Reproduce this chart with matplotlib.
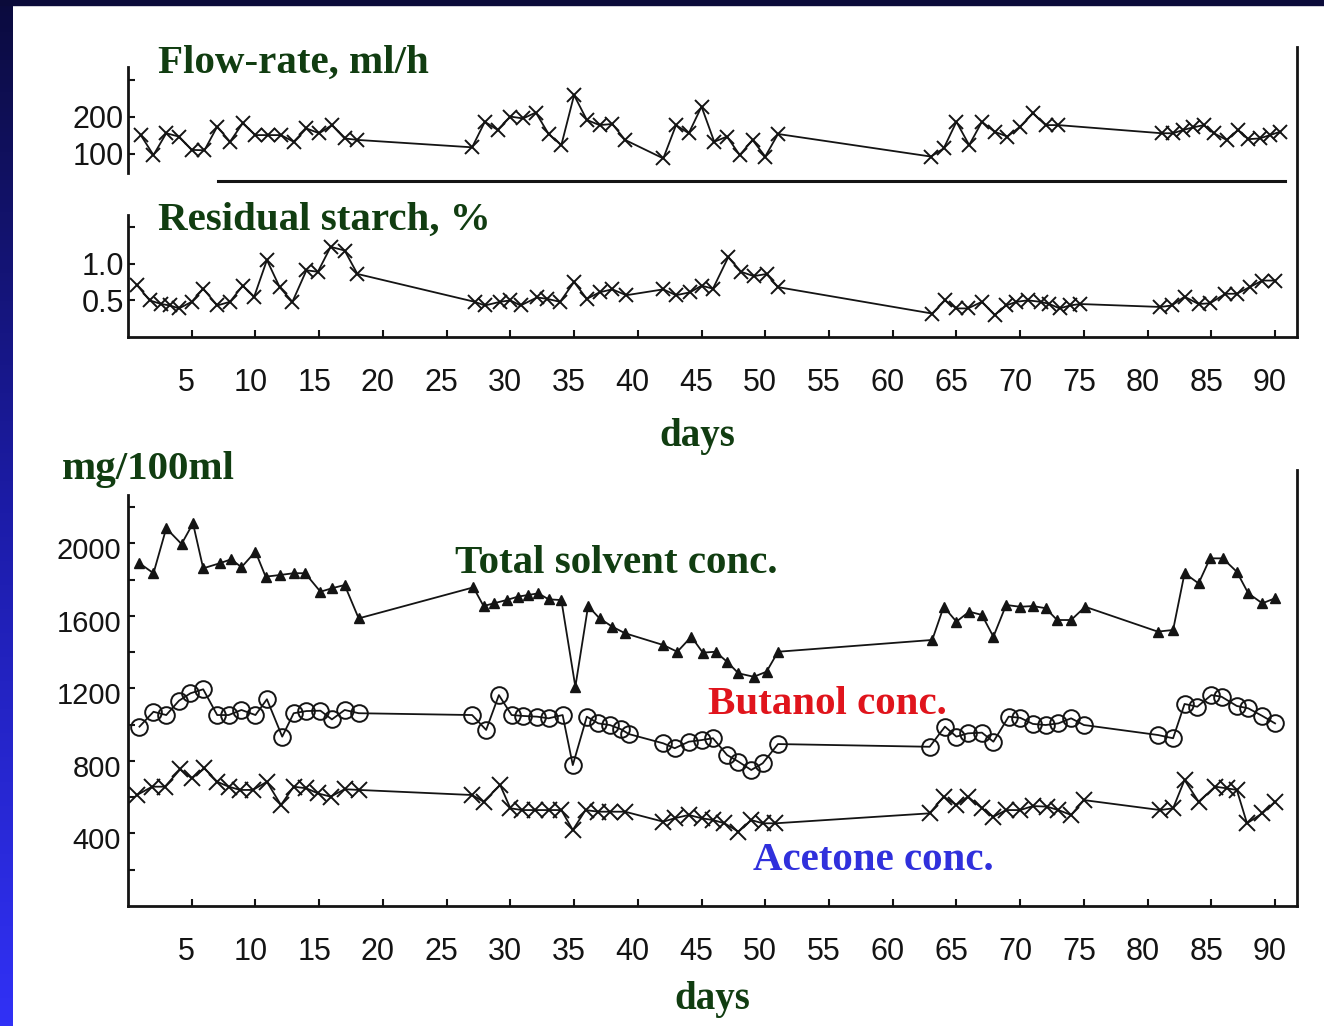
import numpy as np
import matplotlib.pyplot as plt
from matplotlib.lines import Line2D
from matplotlib.transforms import ScaledTranslation
from matplotlib.colors import LinearSegmentedColormap

plt.rcParams['font.family'] = ['Liberation Sans', 'DejaVu Sans']

W, H, DPI = 1324, 1026, 100

# ---- data ----
flow_days = [1, 2, 3, 4, 5, 6, 7, 8, 9, 10, 11, 12, 13, 14, 15, 16, 17, 18,
             27, 28, 29, 30, 31, 32, 33, 34, 35, 36, 37, 38, 39,
             42, 43, 44, 45, 46, 47, 48, 49, 50, 51,
             63, 64, 65, 66, 67, 68, 69, 70, 71, 72, 73,
             81.1, 82.0, 82.8, 83.6, 84.4, 85.2, 86.2, 87.1, 87.9, 88.8, 89.6, 90.4]
flow_vals = [151, 97, 156, 147, 111, 110, 174, 133, 183, 151, 151, 151, 133, 169, 156, 178, 142, 138,
             118, 187, 165, 201, 196, 212, 154, 124, 259, 192, 178, 181, 138,
             88, 178, 156, 228, 133, 147, 97, 138, 93, 154,
             93, 115, 187, 124, 187, 160, 147, 174, 210, 178, 178,
             156, 156, 165, 172, 178, 156, 138, 165, 140, 142, 151, 160]

starch_days = [0.7, 1.7, 2.6, 3.3, 4.0, 5, 5.9, 7, 8, 9, 9.9, 10.9, 11.9, 12.9, 14, 14.9, 15.9, 17, 18,
               27.2, 28, 29.2, 30, 30.8, 32.1, 32.9, 33.9, 35, 36, 37, 38, 39.1,
               42, 43, 44.1, 45, 45.9, 47.1, 48.1, 49.1, 50.1, 51,
               63.1, 64.1, 65, 65.9, 67, 68, 68.9, 69.7, 70.6, 71.6, 72.3, 73.1, 73.9, 74.7,
               81, 81.9, 82.9, 84, 84.9, 86.1, 87, 88, 89, 90]
starch_vals = [0.71, 0.50, 0.45, 0.43, 0.39, 0.48, 0.66, 0.43, 0.48, 0.70, 0.55, 1.05, 0.68, 0.48,
               0.91, 0.89, 1.23, 1.18, 0.86,
               0.48, 0.43, 0.48, 0.50, 0.43, 0.54, 0.52, 0.48, 0.75, 0.52, 0.61, 0.65, 0.57,
               0.65, 0.57, 0.61, 0.70, 0.66, 1.09, 0.89, 0.83, 0.86, 0.68,
               0.32, 0.50, 0.39, 0.39, 0.48, 0.30, 0.43, 0.48, 0.50, 0.48, 0.45, 0.39, 0.43, 0.45,
               0.41, 0.43, 0.55, 0.45, 0.46, 0.59, 0.59, 0.68, 0.77, 0.77]

total_days = [0.9, 2, 3, 4.2, 5.1, 5.9, 7.2, 8.1, 8.9, 10, 10.8, 11.9, 13, 13.9, 15.1, 16, 17, 18.1,
              27.1, 27.9, 28.7, 29.7, 30.6, 31.4, 32.2, 33, 34, 35.1, 36.1, 37, 38, 39,
              42, 43.1, 44.2, 45.1, 46.1, 47, 47.9, 49.1, 50.1, 51,
              63.1, 64, 65, 66, 67, 67.9, 68.9, 70, 71, 72, 72.9, 74, 75.1,
              80.8, 82, 82.9, 84, 84.9, 85.9, 87, 87.9, 89, 90]
total_vals = [1890, 1835, 2083, 1996, 2110, 1862, 1890, 1912, 1868, 1954, 1816, 1825, 1835, 1835,
              1733, 1752, 1770, 1586,
              1757, 1654, 1669, 1687, 1706, 1715, 1724, 1691, 1687, 1209, 1654, 1586, 1540, 1504,
              1439, 1402, 1485, 1397, 1402, 1347, 1283, 1264, 1292, 1402,
              1467, 1650, 1568, 1623, 1605, 1485, 1660, 1650, 1654, 1642, 1577, 1577, 1650,
              1513, 1522, 1835, 1779, 1917, 1917, 1843, 1724, 1669, 1697]

butanol_days = [0.9, 2, 3, 4, 4.9, 5.9, 7, 7.9, 8.9, 10, 10.9, 12.1, 13, 14, 15.1, 16, 17, 18.1,
                27, 28.1, 29.1, 30.1, 31, 32.1, 33, 34.1, 34.9, 36, 36.9, 37.8, 38.7, 39.3,
                42, 42.9, 44, 45, 45.9, 47, 47.9, 48.9, 49.8, 51,
                62.9, 64.1, 65, 65.9, 67, 67.9, 69.1, 70, 71, 72, 73, 74, 75,
                80.8, 82, 82.9, 83.9, 85, 85.8, 87, 87.9, 89, 90]
butanol_vals = [989, 1071, 1053, 1132, 1173, 1195, 1053, 1053, 1081, 1053, 1140, 934, 1063, 1075,
                1077, 1029, 1081, 1063,
                1053, 971, 1163, 1053, 1048, 1044, 1035, 1053, 777, 1044, 1007, 998, 974, 948,
                897, 870, 906, 915, 925, 833, 796, 750, 787, 893,
                878, 989, 934, 952, 956, 906, 1044, 1038, 1004, 998, 1007, 1035, 998,
                943, 925, 1114, 1099, 1163, 1154, 1103, 1090, 1048, 1007]

acetone_days = [0.7, 1.9, 2.9, 4.1, 5, 6, 7, 7.9, 8.8, 9.8, 10.9, 12, 13, 14, 14.9, 15.9, 17, 18.1,
                27, 27.9, 29.2, 30, 30.9, 31.9, 33, 34, 34.9, 35.9, 36.9, 37.8, 39,
                42, 42.9, 44, 45, 45.9, 46.8, 47.9, 48.9, 49.8, 50.8,
                62.9, 64, 65, 65.9, 67, 67.9, 68.9, 70, 71, 72.1, 73, 74, 75,
                81, 82, 82.9, 84, 85.3, 86.2, 87, 87.8, 89, 90]
acetone_vals = [612, 658, 658, 754, 704, 759, 685, 658, 640, 640, 685, 557, 658, 649, 621, 603, 644, 640,
                612, 575, 667, 539, 529, 529, 529, 529, 419, 529, 520, 520, 520,
                465, 484, 502, 484, 474, 456, 410, 474, 456, 456,
                511, 603, 557, 603, 539, 492, 529, 529, 551, 548, 529, 502, 584,
                529, 539, 695, 575, 658, 649, 640, 456, 511, 575]

day_ticks = list(range(5, 95, 5))
day_labels = [str(d) for d in day_ticks]
flow_ticks, flow_labels = [100, 200, 300], ['100', '200', '']
starch_ticks, starch_labels = [0.5, 1.0, 1.5], ['0.5', '1.0', '']
conc_ticks = list(range(200, 2400, 200))
conc_labels = [str(v) if v % 400 == 0 else '' for v in conc_ticks]

INK = '#141414'
GREEN = '#113d11'


def fx(px):
    return px / W


def fy(py):
    return 1 - py / H


def rect(x0, y_top, x1, y_bot):
    return [fx(x0), fy(y_bot), fx(x1) - fx(x0), fy(y_top) - fy(y_bot)]


fig = plt.figure(figsize=(W / DPI, H / DPI), dpi=DPI, facecolor='white')

# blue slide border: gradient strip on the left, dark strip on top
bg = fig.add_axes([0, 0, fx(12), 1], zorder=-5)
grad = np.linspace(0, 1, 256).reshape(-1, 1)
cmap = LinearSegmentedColormap.from_list('slide', ['#0b0b3e', '#1c1ca8', '#3131f6'])
bg.imshow(grad, aspect='auto', cmap=cmap, extent=[0, 1, 0, 1], origin='upper')
bg.axis('off')
fig.patches.append(plt.Rectangle((0, fy(5)), 1, 5 / H, transform=fig.transFigure,
                                 color='#0b0b3a', zorder=-4))

x_max = (1297 - 128) / 12.745
tick_kw = dict(direction='in', length=5, width=1.5, colors=INK)
line_kw = dict(color=INK, lw=1.3)
xoff = ScaledTranslation(-0.05, 0, fig.dpi_scale_trans)
yoff = ScaledTranslation(0, -0.05, fig.dpi_scale_trans)


def style_x(ax):
    ax.set_xlim(0, x_max)
    ax.set_xticks(day_ticks)
    ax.set_xticklabels(day_labels)
    ax.tick_params(axis='x', labelsize=22, pad=22, **tick_kw)
    for lab in ax.get_xticklabels():
        lab.set_transform(lab.get_transform() + xoff)


# ---- residual starch (also carries the frame of the upper block) ----
ax_s = fig.add_axes(rect(128, 47, 1297, 337))
ax_s.set_ylim(0, (337 - 47) / 73.3)
ax_s.plot(starch_days, starch_vals, marker='x', ms=10, mew=1.4, **line_kw)
ax_s.set_yticks(starch_ticks)
ax_s.set_yticklabels(starch_labels)
ax_s.tick_params(axis='y', labelsize=22, pad=3, **tick_kw)
ax_s.spines['top'].set_visible(False)
ax_s.spines['left'].set_bounds(0, (337 - 215) / 73.3)
for sp in ax_s.spines.values():
    sp.set_linewidth(2)
    sp.set_color(INK)
style_x(ax_s)
ax_s.patch.set_alpha(0)

# ---- flow rate ----
ax_f = fig.add_axes(rect(128, 67, 1297, 173))
ax_f.set_ylim(48.6, 335)
ax_f.set_xlim(0, x_max)
ax_f.plot(flow_days, flow_vals, marker='x', ms=10, mew=1.4, **line_kw)
ax_f.set_yticks(flow_ticks)
ax_f.set_yticklabels(flow_labels)
ax_f.tick_params(axis='y', labelsize=22, pad=3, **tick_kw)
ax_f.set_xticks([])
for name, sp in ax_f.spines.items():
    sp.set_visible(name == 'left')
    sp.set_linewidth(2)
    sp.set_color(INK)
ax_f.patch.set_alpha(0)

fig.add_artist(Line2D([fx(218), fx(1285)], [fy(181), fy(181)], lw=2.2, color=INK))

# ---- solvent concentrations ----
ax_c = fig.add_axes(rect(128, 470, 1297, 906))
ax_c.set_ylim(0, (906 - 470) / 0.18135)
ax_c.plot(total_days, total_vals, marker='^', ms=7, mfc=INK, mec=INK, **line_kw)
ax_c.plot(butanol_days, butanol_vals, marker='o', ms=12, mfc='none', mec=INK, mew=1.4, **line_kw)
ax_c.plot(acetone_days, acetone_vals, marker='x', ms=11, mew=1.4, **line_kw)
ax_c.set_yticks(conc_ticks)
ax_c.set_yticklabels(conc_labels)
ax_c.tick_params(axis='y', labelsize=21, pad=5, **tick_kw)
for lab in ax_c.get_yticklabels():
    lab.set_transform(lab.get_transform() + yoff)
ax_c.spines['top'].set_visible(False)
ax_c.spines['left'].set_bounds(0, (906 - 495) / 0.18135)
for sp in ax_c.spines.values():
    sp.set_linewidth(2)
    sp.set_color(INK)
style_x(ax_c)

# ---- titles and series labels ----
serif = ['Liberation Serif', 'DejaVu Serif']
big = dict(family=serif, fontweight='bold', fontsize=29.5, va='baseline')
fig.text(fx(158), fy(73), 'Flow-rate, ml/h', color=GREEN, **big)
fig.text(fx(158), fy(230), 'Residual starch, %', color=GREEN, **big)
fig.text(fx(62), fy(479), 'mg/100ml', color=GREEN, **big)
fig.text(fx(455), fy(573), 'Total solvent conc.', color=GREEN, **big)
fig.text(fx(708), fy(714), 'Butanol conc.', color='#e0141c', **big)
fig.text(fx(753), fy(870), 'Acetone conc.', color='#3030dc', **big)
fig.text(fx(697), fy(446), 'days', color=GREEN, ha='center', va='baseline',
         family=serif, fontweight='bold', fontsize=28)
fig.text(fx(712), fy(1009), 'days', color=GREEN, ha='center', va='baseline',
         family=serif, fontweight='bold', fontsize=28)

fig.savefig('out.png', dpi=DPI, facecolor='white')
